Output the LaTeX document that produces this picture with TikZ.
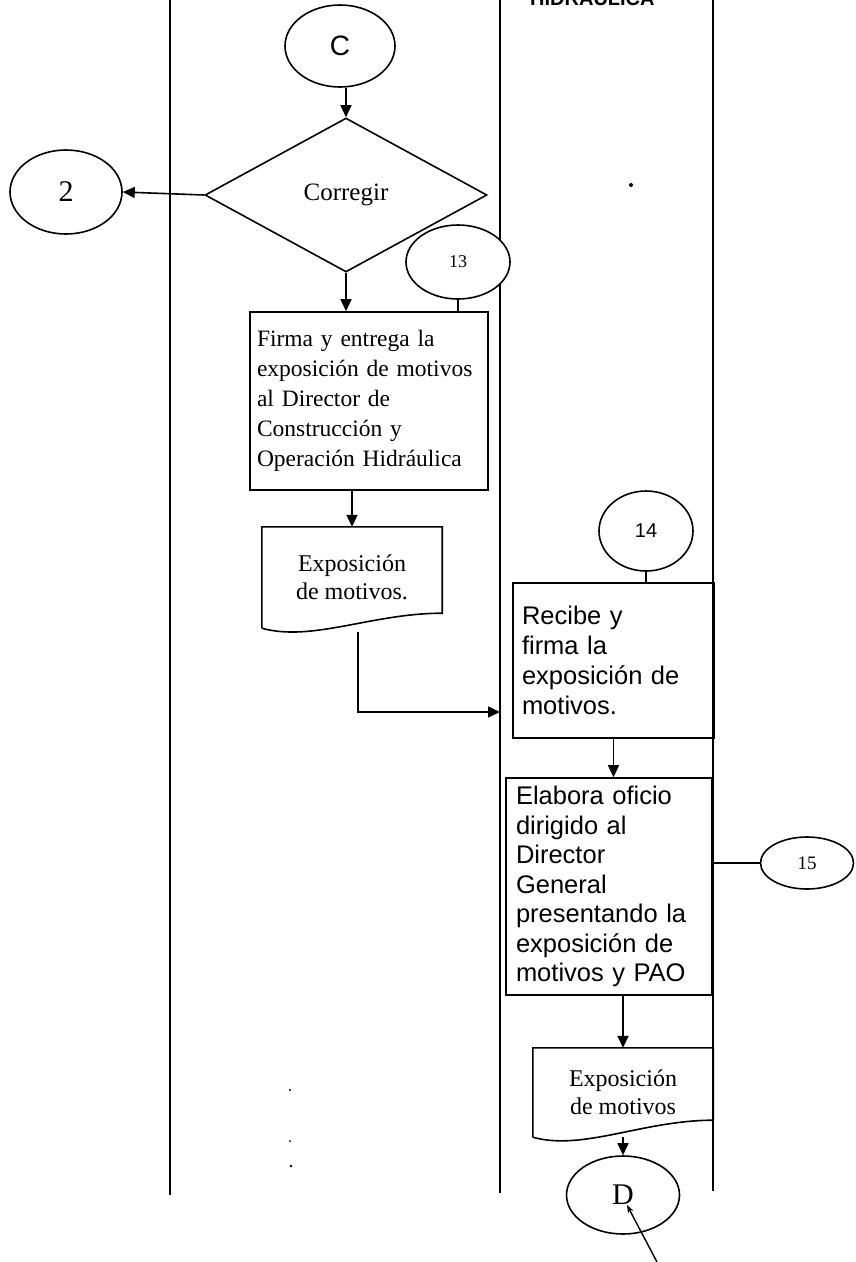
\documentclass[tikz,border=0pt]{standalone}
\usepackage{fontspec}
\setmainfont{Liberation Serif}
\newfontfamily\lanesans{Liberation Sans}
\usetikzlibrary{shapes.geometric, arrows.meta, calc}
\newcommand\fsz[2]{\fontsize{#1}{#2}\selectfont}

\begin{document}
\begin{tikzpicture}[x=1pt, y=-1pt,
    lane/.style={line width=1.4pt},
    flow/.style={line width=1.6pt},
    flowarrow/.style={flow, -{Triangle[length=12pt,width=11pt]}},
    connector/.style={ellipse, draw, line width=1.6pt, inner sep=0pt, fill=white},
    procbox/.style={rectangle, draw, line width=1.6pt, align=left, inner sep=0pt},
    docbox/.style={rectangle, inner sep=0pt, align=center, font=\fsz{24}{28}},
]
\useasboundingbox (0,0) rectangle (855,1262);

% swimlane borders
\draw[lane] (170,0) -- (170,1195);
\draw[lane] (500,0) -- (500,1193);
\draw[lane] (713,0) -- (713,1191);

% lane heading, cut off by the page edge
\begin{scope}
  \clip (0,0) rectangle (855,1262);
  \node[anchor=base west, inner sep=0pt, font=\lanesans\bfseries\fsz{20}{24}] (lanehead) at (530,5) {HIDRÁULICA};
\end{scope}

% left lane
\node[connector, minimum width=110pt, minimum height=82pt, font=\lanesans\fsz{28}{30}] (C) at (340,46) {C};
\node[diamond, draw, line width=1.6pt, minimum width=282pt, minimum height=154pt, inner sep=0pt, font=\fsz{25}{28}] (corregir) at (346,195) {Corregir};
\node[connector, minimum width=112pt, minimum height=84pt, font=\fsz{30}{32}] (two) at (66,192) {2};
\node[connector, minimum width=104pt, minimum height=74pt, font=\fsz{18}{20}] (c13) at (458,262) {13};

\node[procbox, minimum width=238pt, minimum height=178pt, text width=224pt, font=\fsz{23.5}{30}] (firma) at (369,401)
    {Firma y entrega la\\ exposición de motivos\\ al Director de\\ Construcción y\\ Operación Hidráulica};

\node[docbox, minimum width=180pt, minimum height=101pt] (doc1) at (352,577.5) {Exposición\\ de motivos.};
\draw[flow] (doc1.south west) -- (doc1.north west) -- (doc1.north east) -- ([yshift=15pt]doc1.south east)
    .. controls +(-70,0) and +(50,14) .. (doc1.south west);

\coordinate (d1out) at (358,632);
\coordinate (lanein) at (500,712);

% right lane
\node[connector, minimum width=94pt, minimum height=80pt, font=\lanesans\fsz{20}{22}] (c14) at (646,531) {14};
\node[procbox, minimum width=201pt, minimum height=155pt, text width=183pt, font=\lanesans\fsz{25.5}{30}] (recibe) at (613.5,660.5)
    {Recibe y\\ firma la\\ exposición de\\ motivos.};
\node[procbox, minimum width=206pt, minimum height=217pt, text width=186pt, font=\lanesans\fsz{25.5}{29.5}] (elabora) at (609,886.5)
    {Elabora oficio\\ dirigido al\\ Director\\ General\\ presentando la\\ exposición de\\ motivos y PAO};
\node[connector, minimum width=93pt, minimum height=52pt, font=\fsz{19}{20}] (c15) at (807,863) {15};

\node[docbox, minimum width=180pt, minimum height=89pt] (doc2) at (623,1092.5) {Exposición\\ de motivos};
\draw[flow] (doc2.south west) -- (doc2.north west) -- (doc2.north east) -- ([yshift=17pt]doc2.south east)
    .. controls +(-70,0) and +(50,14) .. (doc2.south west);

\node[connector, minimum width=113pt, minimum height=78pt, font=\fsz{30}{32}] (D) at (623,1195) {D};
\coordinate (dtail) at (657,1262);
\coordinate (dtip) at (627,1205);

% flow lines
\draw[flowarrow] (corregir.north |- C.south) -- (corregir.north);
\draw[flowarrow] (corregir.west) -- (two.east);
\draw[flowarrow] (corregir.south) -- (corregir.south |- firma.north);
\draw[flow] (c13.south) -- (c13.south |- firma.north);
\draw[flowarrow] (doc1.north |- firma.south) -- (doc1.north);
\draw[flowarrow] (d1out) |- (lanein);
\draw[flow] (c14.south) -- (c14.south |- recibe.north);
\draw[flowarrow] (recibe.south) -- (recibe.south |- elabora.north);
\draw[flow] (elabora.east |- c15.west) -- (c15.west);
\draw[flowarrow] (doc2.north |- elabora.south) -- (doc2.north);
\draw[flowarrow] (doc2.south) -- (D.north);
\draw[line width=1.4pt, -{Stealth[length=8pt,width=6pt]}] (dtail) -- (dtip);

% stray marks
\fill (631,185) circle (2);
\fill (290,1090) circle (1.2);
\fill (290,1141) circle (1);
\fill (291,1166) circle (1.3);
\end{tikzpicture}
\end{document}
